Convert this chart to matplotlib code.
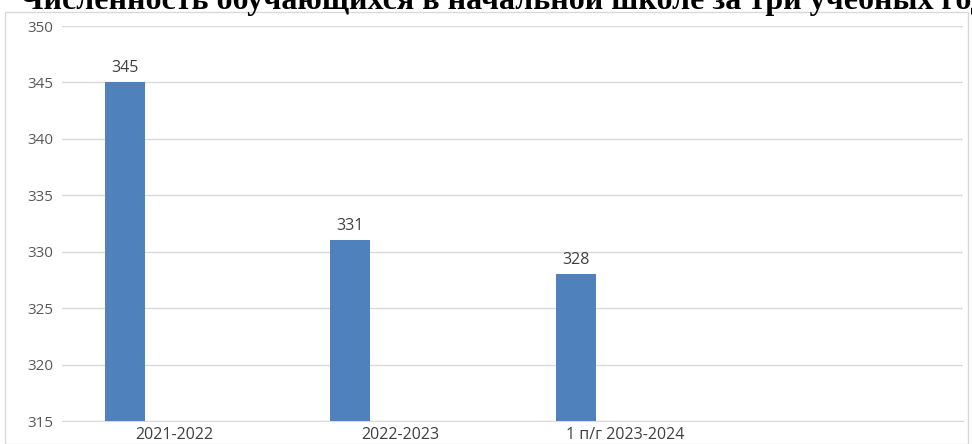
import matplotlib
matplotlib.use("Agg")
import matplotlib.pyplot as plt
from matplotlib.patches import Rectangle

categories = ["2021-2022", "2022-2023", "1 п/г 2023-2024", ""]
values = [345, 331, 328, None]
title = "Численность обучающихся в начальной школе за три учебных года"

fig = plt.figure(figsize=(9.72, 4.44), dpi=100)
fig.patch.set_facecolor("white")
# chart frame
fig.patches.append(Rectangle((5/972, 0), 963/972, 1 - 12/444, transform=fig.transFigure,
                             fill=False, edgecolor="#D9D9D9", linewidth=1))

ax = fig.add_axes([62/972, 1 - 421/444, (963-62)/972, (421-26)/444])
xs = list(range(len(categories)))
bx = [x - 0.22 for x, v in zip(xs, values) if v is not None]
bv = [v for v in values if v is not None]
bars = ax.bar(bx, bv, width=0.178, color="#4F81BD", zorder=3)
for x, v in zip(bx, bv):
    ax.text(x, v + 0.6, str(v), ha="center", va="bottom", fontsize=11.5,
            color="#404040", family="Open Sans")

ax.set_xlim(-0.5, len(categories) - 0.5)
ax.set_ylim(315, 350)
ax.set_yticks(range(315, 351, 5))
ax.set_xticks(xs)
ax.set_xticklabels(categories, family="Open Sans", fontsize=11.5, color="#404040")
for lab in ax.get_yticklabels():
    lab.set_family("Open Sans"); lab.set_fontsize(11); lab.set_color("#595959")
ax.tick_params(length=0, pad=6)
ax.tick_params(axis="x", pad=4)
ax.grid(axis="y", color="#D9D9D9", linewidth=1, zorder=0)
for s in ["top", "right", "left"]:
    ax.spines[s].set_visible(False)
ax.spines["bottom"].set_color("#D9D9D9")

fig.text(20/972, 1 - 9/444, title, ha="left", va="baseline", fontsize=23,
         fontweight="bold", family="Liberation Serif", color="black")

fig.savefig("out.png", dpi=100)
